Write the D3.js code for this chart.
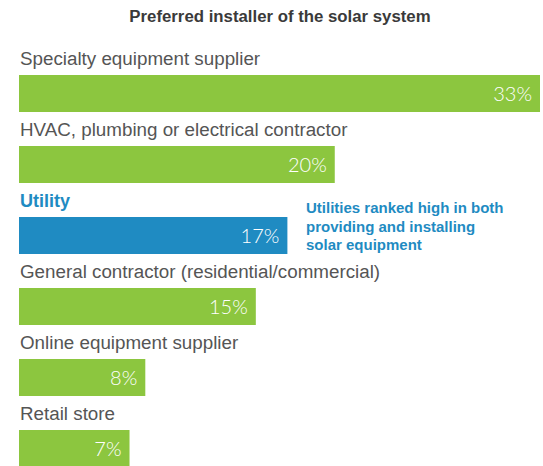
<!DOCTYPE html>
<html>
<head>
<meta charset="utf-8">
<script src="https://cdn.jsdelivr.net/npm/d3@7"></script>
<style>
  body { margin: 0; background: #fff; }
  svg { display: block; font-family: "Liberation Sans", Arial, sans-serif; }
</style>
</head>
<body>
<svg id="chart" width="543" height="466"></svg>
<script>
"use strict";

const categories = [
    "Specialty equipment supplier",
    "HVAC, plumbing or electrical contractor",
    "Utility",
    "General contractor (residential/commercial)",
    "Online equipment supplier",
    "Retail store"
];
const values = [33, 20, 17, 15, 8, 7];
const highlight = "Utility";
const noteLines = [
    "Utilities ranked high in both",
    "providing and installing",
    "solar equipment"
];

const green = "#8cc63f";
const blue = "#1f8bc2";

const svg = d3.select("#chart");

const x = d3.scaleLinear().domain([0, 33]).range([19, 540]);
const y = d3.scaleBand()
    .domain(categories)
    .range([75, 467])
    .paddingInner(34 / 71)
    .paddingOuter(0);

const data = categories.map((c, i) => ({ name: c, value: values[i] }));

// title
svg.append("text")
    .attr("x", 280)
    .attr("y", 22)
    .attr("text-anchor", "middle")
    .style("font-size", "16.8px")
    .style("font-weight", "bold")
    .style("fill", "#3a3a3a")
    .text("Preferred installer of the solar system");

const rows = svg.append("g")
    .selectAll("g")
    .data(data)
    .join("g");

// category labels above the bars
rows.append("text")
    .attr("x", 20)
    .attr("y", d => y(d.name) - 10)
    .style("font-size", d => d.name == highlight ? "18px" : "18.8px")
    .style("font-weight", d => d.name == highlight ? "bold" : "normal")
    .style("fill", d => d.name == highlight ? blue : "#555")
    .text(d => d.name);

rows.append("rect")
    .attr("x", x(0))
    .attr("y", d => y(d.name))
    .attr("width", d => x(d.value) - x(0))
    .attr("height", y.bandwidth())
    .attr("fill", d => d.name == highlight ? blue : green);

// value labels inside bar end
rows.append("text")
    .attr("x", d => x(d.value) - 8)
    .attr("y", d => y(d.name) + y.bandwidth() / 2 + 7)
    .attr("text-anchor", "end")
    .style("font-family", "Lato, 'Liberation Sans', sans-serif")
    .style("font-weight", 300)
    .style("font-size", "20px")
    .style("fill", "#fff")
    .text(d => d.value + "%");

// annotation next to the utility bar
svg.append("text")
    .attr("x", 306)
    .attr("y", y(highlight) - 4)
    .style("font-size", "15px")
    .style("font-weight", "bold")
    .style("fill", blue)
    .selectAll("tspan")
    .data(noteLines)
    .join("tspan")
    .attr("x", 306)
    .attr("dy", (d, i) => i == 0 ? 0 : 18.5)
    .text(d => d);
</script>
</body>
</html>
